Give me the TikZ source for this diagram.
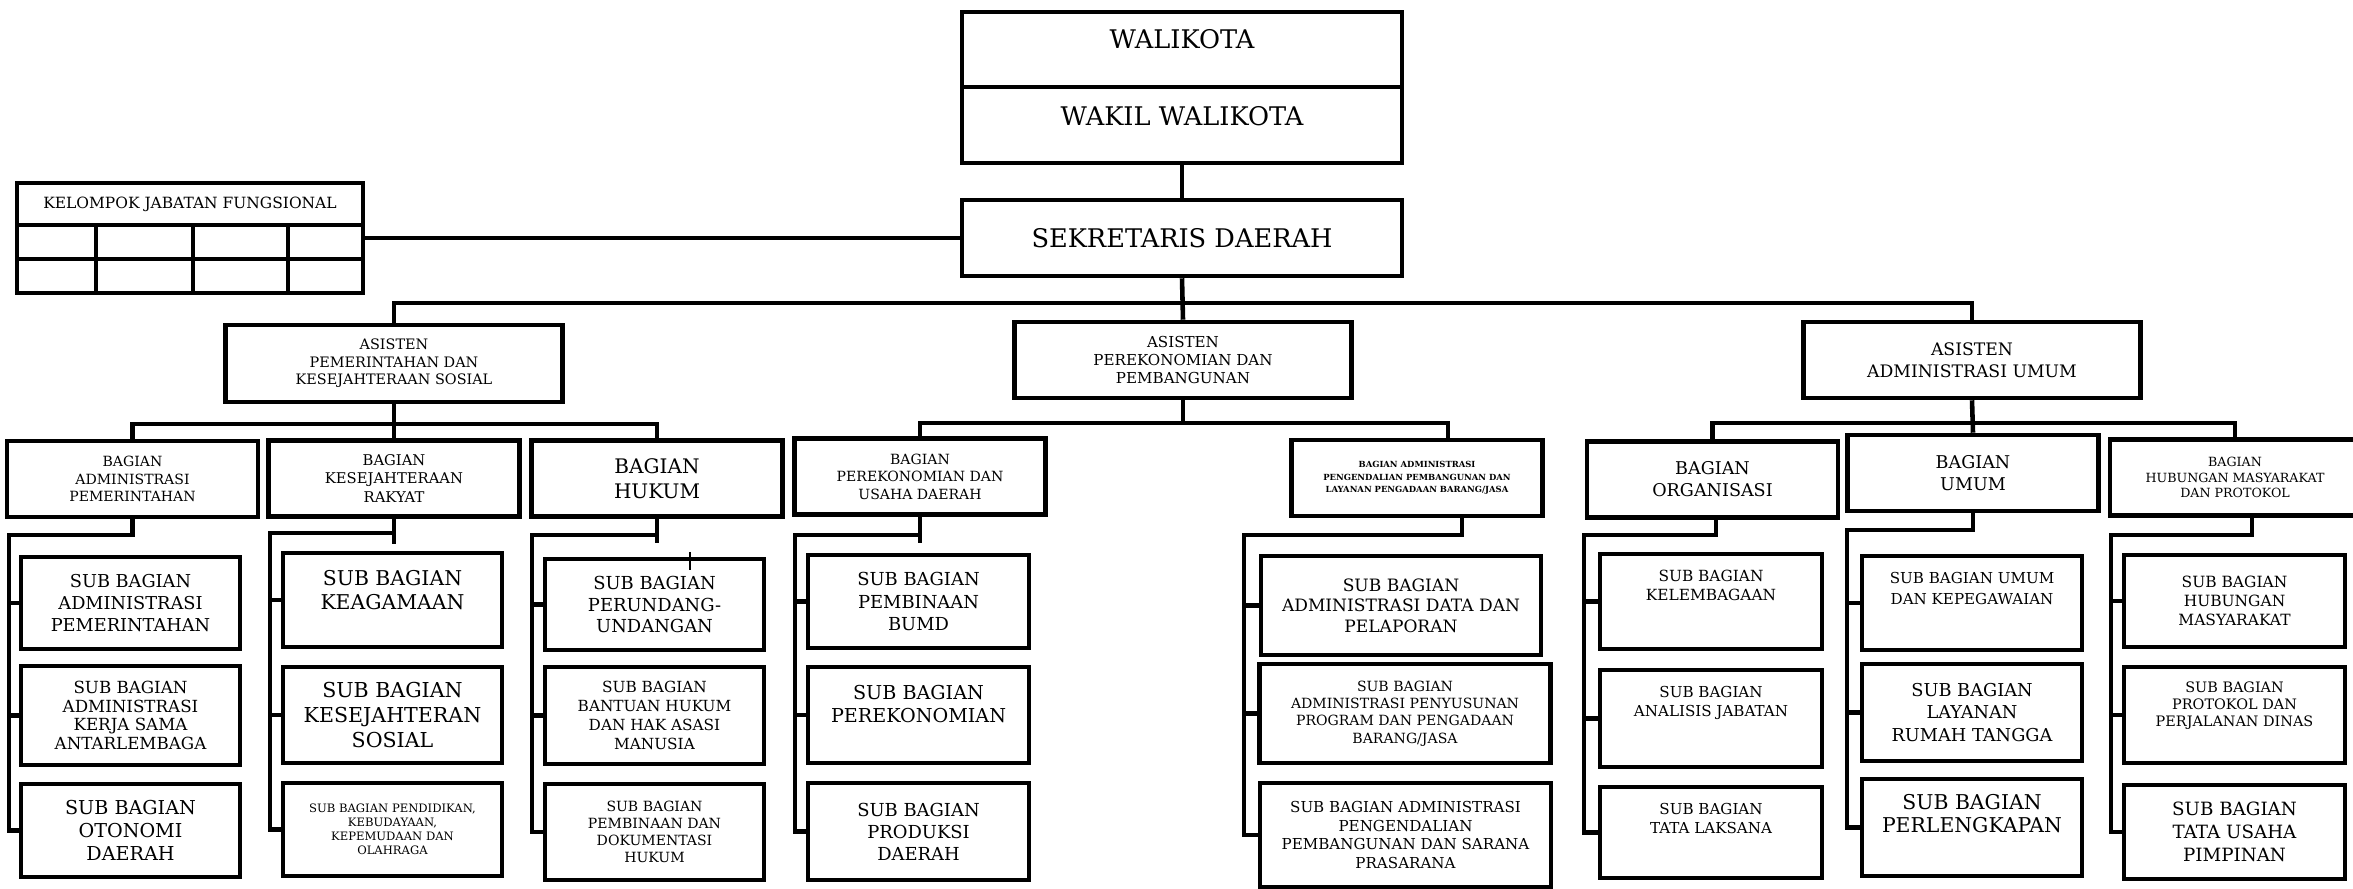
\documentclass[tikz,border=0pt]{standalone}
\usepackage{fontspec}
\setmainfont{DejaVu Serif}
\newcommand{\fsz}[2]{\fontsize{#1pt}{#2pt}\selectfont}
\newcommand{\lift}[1]{\\[#1]\mbox{}}

\begin{document}
\begin{tikzpicture}[x=0.1mm, y=-0.1mm, line width=1.3pt,
  box/.style={draw, rectangle, align=center, inner sep=0pt},
  topbox/.style={box, minimum width=44mm, minimum height=7.6mm, font=\fsz{7.3}{9}},
  astbox/.style={box, minimum width=33.7mm, minimum height=7.6mm},
  bagbox/.style={box, minimum width=25.1mm, minimum height=7.6mm},
  subbox/.style={box, minimum width=21.9mm, minimum height=9.4mm}]
\useasboundingbox (0,0) rectangle (2353,889);

\node[topbox, minimum height=7.5mm] (wali) at (1182,49.5) {WALIKOTA\lift{-3.3pt}};
\node[topbox] (wakil) at (1182,125) {WAKIL WALIKOTA\lift{-3.9pt}};
\node[topbox] (sekda) at (1182,238) {SEKRETARIS DAERAH};

\node[box, minimum width=34.6mm, minimum height=11mm] (kjf) at (190,238) {};
\node[font=\fsz{4.4}{5.5}] (kjftitle) at (190,204) {KELOMPOK JABATAN FUNGSIONAL};
\draw (17,225) -- (363,225);
\draw (17,259) -- (363,259);
\draw (96,225) -- (96,293);
\draw (193,225) -- (193,293);
\draw (288,225) -- (288,293);

\node[astbox, minimum height=7.7mm, font=\fsz{4.1}{5}] (ast1) at (394,363.5) {ASISTEN\\PEMERINTAHAN DAN\\KESEJAHTERAAN SOSIAL};
\node[astbox, font=\fsz{4.3}{5.2}] (ast2) at (1183,360) {ASISTEN\\PEREKONOMIAN DAN\\PEMBANGUNAN};
\node[astbox, font=\fsz{4.9}{6.3}] (ast3) at (1972,360) {ASISTEN\\ADMINISTRASI UMUM};

\node[bagbox, font=\fsz{4}{5}] (bg1) at (132.5,479) {BAGIAN\\ADMINISTRASI\\PEMERINTAHAN};
\node[bagbox, font=\fsz{4.2}{5.2}] (bg2) at (394,478.5) {BAGIAN\\KESEJAHTERAAN\\RAKYAT};
\node[bagbox, font=\fsz{5.7}{7.1}] (bg3) at (657,478.5) {BAGIAN\\HUKUM};
\node[bagbox, font=\fsz{4}{5}] (bg4) at (920,476.5) {BAGIAN\\PEREKONOMIAN DAN\\USAHA DAERAH};
\node[bagbox, font=\bfseries\fsz{2.4}{3.6}] (bg5) at (1417,478) {BAGIAN ADMINISTRASI\\PENGENDALIAN PEMBANGUNAN DAN\\LAYANAN PENGADAAN BARANG/JASA};
\node[bagbox, font=\fsz{5}{6.2}] (bg6) at (1712.5,479.5) {BAGIAN\\ORGANISASI};
\node[bagbox, font=\fsz{5}{6.3}] (bg7) at (1973,473) {BAGIAN\\UMUM};
\node[bagbox, minimum width=25mm, font=\fsz{3.6}{4.4}] (bg8) at (2235,477.5) {BAGIAN\\HUBUNGAN MASYARAKAT\\DAN PROTOKOL};

\node[subbox, minimum height=9.2mm, font=\fsz{5.05}{6.3}] (s11) at (130.5,603) {SUB BAGIAN\\ADMINISTRASI\\PEMERINTAHAN};
\node[subbox, minimum height=9.9mm, font=\fsz{4.75}{5.3}] (s12) at (130.5,715.5) {SUB BAGIAN\\ADMINISTRASI\\KERJA SAMA\\ANTARLEMBAGA};
\node[subbox, minimum height=9.3mm, font=\fsz{5.45}{6.6}] (s13) at (130.5,830.5) {SUB BAGIAN\\OTONOMI\\DAERAH};

\node[subbox, font=\fsz{5.8}{6.9}] (s21) at (392.5,600) {SUB BAGIAN\\KEAGAMAAN\lift{-1.2pt}};
\node[subbox, minimum height=9.6mm, font=\fsz{5.85}{7}] (s22) at (392.5,715) {SUB BAGIAN\\KESEJAHTERAN\\SOSIAL};
\node[subbox, minimum height=9.3mm, font=\fsz{3.3}{4}] (s23) at (392.5,829.5) {SUB BAGIAN PENDIDIKAN,\\KEBUDAYAAN,\\KEPEMUDAAN DAN\\OLAHRAGA};

\node[subbox, minimum height=9.1mm, font=\fsz{5.1}{6.2}] (s31) at (654.5,604.5) {SUB BAGIAN\\PERUNDANG-\\UNDANGAN};
\node[subbox, minimum height=9.7mm, font=\fsz{4.36}{5.4}] (s32) at (654.5,715.5) {SUB BAGIAN\\BANTUAN HUKUM\\DAN HAK ASASI\\MANUSIA};
\node[subbox, minimum height=9.6mm, font=\fsz{4}{4.8}] (s33) at (654.5,832) {SUB BAGIAN\\PEMBINAAN DAN\\DOKUMENTASI\\HUKUM};
\draw[line width=0.6pt] (690,552) -- (690,570);

\node[subbox, minimum width=22.1mm, minimum height=9.3mm, font=\fsz{5.1}{6.3}] (s41) at (918.5,601.5) {SUB BAGIAN\\PEMBINAAN\\BUMD};
\node[subbox, minimum width=22.1mm, minimum height=9.6mm, font=\fsz{5.45}{6.35}] (s42) at (918.5,715) {SUB BAGIAN\\PEREKONOMIAN\lift{0pt}};
\node[subbox, minimum width=22.1mm, minimum height=9.7mm, font=\fsz{5.1}{6.3}] (s43) at (918.5,831.5) {SUB BAGIAN\\PRODUKSI\\DAERAH};

\node[subbox, minimum width=28mm, minimum height=9.9mm, font=\fsz{4.85}{5.8}] (s51) at (1401,605.5) {SUB BAGIAN\\ADMINISTRASI DATA DAN\\PELAPORAN};
\node[subbox, minimum width=29.1mm, minimum height=9.9mm, font=\fsz{4}{4.9}] (s52) at (1405,713.5) {SUB BAGIAN\\ADMINISTRASI PENYUSUNAN\\PROGRAM DAN PENGADAAN\\BARANG/JASA};
\node[subbox, minimum width=29.1mm, minimum height=10.4mm, font=\fsz{4.3}{5.4}] (s53) at (1405.5,835) {SUB BAGIAN ADMINISTRASI\\PENGENDALIAN\\PEMBANGUNAN DAN SARANA\\PRASARANA};

\node[subbox, minimum width=22.2mm, minimum height=9.5mm, font=\fsz{4.37}{5.4}] (s61) at (1711,601.5) {SUB BAGIAN\\KELEMBAGAAN\lift{3.7pt}};
\node[subbox, minimum width=22.2mm, minimum height=9.7mm, font=\fsz{4.3}{5.4}] (s62) at (1711,718.5) {SUB BAGIAN\\ANALISIS JABATAN\lift{4.3pt}};
\node[subbox, minimum width=22.2mm, minimum height=9.1mm, font=\fsz{4.3}{5.4}] (s63) at (1711,832.5) {SUB BAGIAN\\TATA LAKSANA\lift{2.6pt}};

\node[subbox, minimum width=22mm, font=\fsz{4.3}{5.9}] (s71) at (1972,603) {SUB BAGIAN UMUM\\DAN KEPEGAWAIAN\lift{2.6pt}};
\node[subbox, minimum width=22mm, minimum height=9.7mm, font=\fsz{5.05}{6.3}] (s72) at (1972,712.5) {SUB BAGIAN\\LAYANAN\\RUMAH TANGGA};
\node[subbox, minimum width=22mm, minimum height=9.7mm, font=\fsz{5.8}{6.6}] (s73) at (1972,827.5) {SUB BAGIAN\\PERLENGKAPAN\lift{1.4pt}};

\node[subbox, minimum width=22.1mm, minimum height=9.2mm, font=\fsz{4.4}{5.35}] (s81) at (2234.5,601) {SUB BAGIAN\\HUBUNGAN\\MASYARAKAT};
\node[subbox, minimum width=22.1mm, minimum height=9.6mm, font=\fsz{4.1}{4.8}] (s82) at (2234.5,715) {SUB BAGIAN\\PROTOKOL DAN\\PERJALANAN DINAS\lift{1.5pt}};
\node[subbox, minimum width=22.1mm, font=\fsz{5.2}{6.6}] (s83) at (2234.5,832) {SUB BAGIAN\\TATA USAHA\\PIMPINAN};

\coordinate (bus0) at (394,303);
\coordinate (bus1) at (132.5,424);
\coordinate (bus2) at (920,423);
\coordinate (bus3) at (1712.5,423);
\coordinate (t1) at (9,535);
\coordinate (t2) at (270,533);
\coordinate (t3) at (532,535);
\coordinate (t4) at (795,535);
\coordinate (t5) at (1244,535);
\coordinate (t6) at (1584,535);
\coordinate (t7) at (1847,530);
\coordinate (t8) at (2111,535);

\draw (kjf.east) -- (sekda.west);
\draw (wakil.south) -- (sekda.north);
\draw (sekda.south) -- (ast2.north);
\draw (ast1.north) -- (bus0) -| (ast3.north);

\draw (ast1.south) -- (bg2.north);
\draw (bg1.north) -- (bus1) -| (bg3.north);
\draw (ast2.south) -- (ast2.south |- bus2);
\draw (bg4.north) -- (bus2) -| ([xshift=3.1mm]bg5.north);
\draw (ast3.south) -- (bg7.north);
\draw (bg6.north) -- (bus3) -| (bg8.north);

\draw (bg1.south) |- (t1) |- (s13.west);
\draw (t1 |- s11.west) -- (s11.west);
\draw (t1 |- s12.west) -- (s12.west);

\draw (bg2.south) -- ++(0,25);
\draw (bg2.south |- t2) -- (t2) |- (s23.west);
\draw (t2 |- s21.west) -- (s21.west);
\draw (t2 |- s22.west) -- (s22.west);

\draw (bg3.south) -- ++(0,24);
\draw (bg3.south |- t3) -- (t3) |- (s33.west);
\draw (t3 |- s31.west) -- (s31.west);
\draw (t3 |- s32.west) -- (s32.west);

\draw (bg4.south) -- ++(0,26);
\draw (bg4.south |- t4) -- (t4) |- (s43.west);
\draw (t4 |- s41.west) -- (s41.west);
\draw (t4 |- s42.west) -- (s42.west);

\draw ([xshift=4.5mm]bg5.south) |- (t5) |- (s53.west);
\draw (t5 |- s51.west) -- (s51.west);
\draw (t5 |- s52.west) -- (s52.west);

\draw ([xshift=0.35mm]bg6.south) |- (t6) |- (s63.west);
\draw (t6 |- s61.west) -- (s61.west);
\draw (t6 |- s62.west) -- (s62.west);

\draw (bg7.south) |- (t7) |- (s73.west);
\draw (t7 |- s71.west) -- (s71.west);
\draw (t7 |- s72.west) -- (s72.west);

\draw ([xshift=1.7mm]bg8.south) |- (t8) |- (s83.west);
\draw (t8 |- s81.west) -- (s81.west);
\draw (t8 |- s82.west) -- (s82.west);
\end{tikzpicture}
\end{document}
